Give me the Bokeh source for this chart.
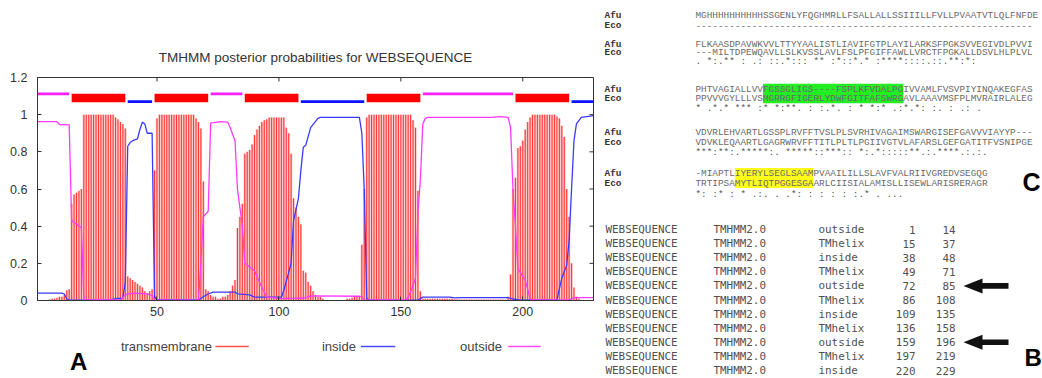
import math
from bokeh.plotting import figure
from bokeh.layouts import row, column
from bokeh.models import Range1d, FixedTicker, NumeralTickFormatter
from bokeh.core.properties import value
from bokeh.embed import file_html
from bokeh.resources import INLINE

# ---------------- data (panel A) ----------------
positions = list(range(1, 230))
tm_prob = [
    0, 0, 0, 0, 0, 0.005, 0.01, 0.01, 0.015, 0.02,
    0.02, 0.03, 0.055, 0.06, 0.52, 0.57, 0.58, 0.59, 0.6, 1.0,
    1.0, 1.0, 1.0, 1.0, 1.0, 1.0, 1.0, 1.0, 1.0, 1.0,
    1.0, 1.0, 0.985, 0.975, 0.96, 0.95, 0.925, 0.13, 0.12, 0.11,
    0.1, 0.09, 0.08, 0.07, 0.05, 0.04, 0.05, 0.06, 0.7, 0.98,
    1.0, 1.0, 1.0, 1.0, 1.0, 1.0, 1.0, 1.0, 1.0, 1.0,
    1.0, 1.0, 1.0, 1.0, 1.0, 0.98, 0.96, 0.925, 0.64, 0.06,
    0.05, 0.03, 0.02, 0.02, 0.01, 0.01, 0.02, 0.02, 0.03, 0.05,
    0.08, 0.11, 0.39, 0.45, 0.52, 0.79, 0.8, 0.81, 0.84, 0.89,
    0.92, 0.94, 0.96, 0.97, 0.975, 0.985, 0.985, 0.985, 0.985, 0.985,
    0.985, 0.985, 0.93, 0.9, 0.79, 0.55, 0.5, 0.45, 0.41, 0.16,
    0.15, 0.1, 0.08, 0.05, 0.03, 0.02, 0.02, 0.01, 0, 0,
    0, 0, 0, 0, 0, 0, 0, 0.01, 0.01, 0.015,
    0.02, 0.02, 0.02, 0.3, 0.6, 0.985, 1.0, 1.0, 1.0, 1.0,
    1.0, 1.0, 1.0, 1.0, 1.0, 1.0, 1.0, 1.0, 1.0, 1.0,
    1.0, 1.0, 1.0, 1.0, 0.97, 0.93, 0.59, 0.05, 0.01, 0.01,
    0.01, 0.01, 0.01, 0.01, 0.01, 0.01, 0.01, 0.01, 0.01, 0.01,
    0.01, 0.005, 0.005, 0.005, 0.005, 0.005, 0.005, 0.005, 0.005, 0.005,
    0.005, 0.005, 0.005, 0.005, 0.005, 0.005, 0.005, 0.005, 0.005, 0.005,
    0.005, 0.005, 0.005, 0.02, 0.14, 0.6, 0.66, 0.82, 0.83, 0.86,
    0.92, 0.96, 0.985, 1.0, 1.0, 1.0, 1.0, 1.0, 1.0, 1.0,
    1.0, 1.0, 1.0, 0.99, 0.98, 0.94, 0.88, 0.6, 0.45, 0.2,
    0.07, 0.02, 0.01, 0, 0, 0, 0, 0, 0,
]

inside_pos = [1, 11, 12, 13, 14, 31, 33, 36, 37, 38, 39, 40, 42, 43, 44, 45, 46, 48, 49, 50,
              67, 69, 71, 73, 82, 83, 88, 90, 101, 102, 105, 106, 108, 109, 110, 111, 113, 116, 117,
              133, 134, 135, 136, 137, 157, 159, 170, 172, 175, 194, 196, 199,
              214, 216, 218, 219, 220, 221, 222, 224, 229]
inside_prob = [0.04, 0.04, 0.035, 0.008, 0.002, 0.003, 0.01, 0.012, 0.1, 0.83, 0.85, 0.86, 0.87, 0.92, 0.96, 0.95, 0.9, 0.9, 0.02, 0.004,
               0.003, 0.02, 0.035, 0.045, 0.045, 0.036, 0.03, 0.018, 0.018, 0.054, 0.2, 0.43, 0.55, 0.7, 0.825, 0.835, 0.93, 0.98, 0.985,
               0.985, 0.9, 0.59, 0.01, 0.002, 0.002, 0.018, 0.018, 0.014, 0.016, 0.016, 0.008, 0.002,
               0.005, 0.12, 0.19, 0.32, 0.6, 0.86, 0.95, 0.985, 0.995]

outside_pos = [1, 9, 10, 14, 15, 19, 20, 35, 37, 38, 41, 46, 48, 49,
               67, 68, 69, 71, 72, 76, 79, 80, 82, 83, 84, 85, 86, 90, 93, 95, 100, 110, 113, 133, 134, 135,
               152, 153, 155, 156, 157, 158, 159, 160, 161, 187, 191, 194, 195, 196, 197, 198, 199, 201, 203, 204,
               219, 221, 229]
outside_prob = [0.963, 0.963, 0.947, 0.945, 0.43, 0.39, 0.005, 0.003, 0.03, 0.036, 0.04, 0.036, 0.027, 0.002,
                0.003, 0.2, 0.45, 0.48, 0.955, 0.963, 0.96, 0.93, 0.86, 0.6, 0.5, 0.4, 0.2, 0.16, 0.07, 0.02, 0.01, 0.012, 0.025, 0.023, 0.02, 0.002,
                0.005, 0.017, 0.08, 0.12, 0.47, 0.65, 0.95, 0.98, 0.985, 0.985, 0.99, 0.985, 0.93, 0.59, 0.4, 0.17, 0.15, 0.11, 0.01, 0.003,
                0.003, 0.015, 0.015]

# TMHMM prediction table (panel B)
seq_names = ["WEBSEQUENCE"] * 11
sources = ["TMHMM2.0"] * 11
features = ["outside", "TMhelix", "inside", "TMhelix", "outside", "TMhelix",
            "inside", "TMhelix", "outside", "TMhelix", "inside"]
seg_start = [1, 15, 38, 49, 72, 86, 109, 136, 159, 197, 220]
seg_end = [14, 37, 48, 71, 85, 108, 135, 158, 196, 219, 229]
arrow_rows = [4, 8]

y_ticks = [0, 0.2, 0.4, 0.6, 0.8, 1.0, 1.2]
x_ticks = [50, 100, 150, 200]
legend_labels = ["transmembrane", "inside", "outside"]

# Alignment (panel C)
afu_lines = [
    "MGHHHHHHHHHHSSGENLYFQGHMRLLFSALLALLSSIIILLFVLLPVAATVTLQLFNFDE",
    "FLKAASDPAVWKVVLTTYYAALISTLIAVIFGTPLAYILARKSFPGKSVVEGIVDLPVVI",
    "PHTVAGIALLVVFGSSGLIGS----FSPLKFVDALPGIVVAMLFVSVPIYINQAKEGFAS",
    "VDVRLEHVARTLGSSPLRVFFTVSLPLSVRHIVAGAIMSWARGISEFGAVVVIAYYP---",
    "-MIAPTLIYERYLSEGLSAAMPVAAILILLSLAVFVALRIIVGREDVSEGQG",
]
eco_lines = [
    "------------------------------------------------------------",
    "---MILTDPEWQAVLLSLKVSSLAVLFSLPFGIFFAWLLVRCTFPGKALLDSVLHLPLVL",
    "PPVVVGYLLLVSMGRRGFIGERLYDWFGITFAFSWRGAVLAAAVMSFPLMVRAIRLALEG",
    "VDVKLEQAARTLGAGRWRVFFTITLPLTLPGIIVGTVLAFARSLGEFGATITFVSNIPGE",
    "TRTIPSAMYTLIQTPGGESGAARLCIISIALAMISLLISEWLARISRERAGR",
]
cons_lines = [
    "        . *:.** :  .: ::.*::: **  :*::*.* :****::::.::.**:*:",
    "* .*.*  *** :*  *:**.    :  :.*. :  * *:*  .:*.*: :.  : .: .",
    "***:**:.*****:.  *****::***::  *:.*:::::**.:.****.:.:.",
    "    *: :*    : * .:. .  .*: :    : : :   :.* . ...",
]
green_cols = (12, 36)
yellow_cols = (7, 20)

# ---------------- panel A: TMHMM plot ----------------
AX = "#333333"
p = figure(frame_width=556, frame_height=223,
           min_border_left=37, min_border_right=7, min_border_top=77, min_border_bottom=22,
           x_range=Range1d(1, 229), y_range=Range1d(0, 1.2),
           output_backend="svg", toolbar_location=None,
           title="TMHMM posterior probabilities for WEBSEQUENCE")
p.title.align = "center"
p.title.text_font = "Liberation Sans"
p.title.text_font_size = "13.5px"
p.title.text_font_style = "normal"
p.title.text_color = "#333333"
p.title.standoff = 25
p.grid.visible = False
p.outline_line_color = AX
p.outline_line_width = 1
p.background_fill_color = "white"
p.border_fill_color = "white"

for ax in (p.xaxis[0], p.yaxis[0]):
    ax.major_tick_in = 4
    ax.major_tick_out = 0
    ax.minor_tick_in = 0
    ax.minor_tick_out = 0
    ax.axis_line_color = AX
    ax.major_tick_line_color = AX
    ax.major_label_text_font = "Liberation Sans"
    ax.major_label_text_font_size = "12.5px"
    ax.major_label_text_color = "#333333"
p.xaxis.ticker = FixedTicker(ticks=x_ticks)
p.xaxis.major_label_standoff = 6
p.yaxis.ticker = FixedTicker(ticks=y_ticks)
p.yaxis.formatter = NumeralTickFormatter(format="0.[0]")
p.yaxis.major_label_standoff = 10

# mirrored inward ticks on the right and top edges
p.ray(x=[229] * len(y_ticks), y=y_ticks, length=4, length_units="screen", angle=math.pi,
      line_color=AX, line_width=1)
p.ray(x=x_ticks, y=[1.2] * len(x_ticks), length=4, length_units="screen", angle=-math.pi / 2,
      line_color=AX, line_width=1)

# transmembrane impulses
p.vbar(x=positions, top=tm_prob, width=0.98, bottom=0, fill_color="#ffbdbd", line_color=None)
p.segment(x0=positions, y0=[0] * len(positions), x1=positions, y1=tm_prob,
          line_color="#ff3434", line_width=1.0)
# inside / outside curves
p.line(inside_pos, inside_prob, line_color="#3a3aff", line_width=1.3)
p.line(outside_pos, outside_prob, line_color="#ff3aff", line_width=1.3)

# topology bar at top, from the prediction table
tm_s = [s for s, f in zip(seg_start, features) if f == "TMhelix"]
tm_e = [e for e, f in zip(seg_end, features) if f == "TMhelix"]
in_s = [s for s, f in zip(seg_start, features) if f == "inside"]
in_e = [e for e, f in zip(seg_end, features) if f == "inside"]
out_s = [s for s, f in zip(seg_start, features) if f == "outside"]
out_e = [e for e, f in zip(seg_end, features) if f == "outside"]
p.quad(left=tm_s, right=tm_e, bottom=1.067, top=1.113, fill_color="#ff0000", line_color=None)
p.segment(x0=in_s, x1=in_e, y0=[1.07] * len(in_s), y1=[1.07] * len(in_s), line_color="#1010ff", line_width=2.6)
p.segment(x0=out_s, x1=out_e, y0=[1.112] * len(out_s), y1=[1.112] * len(out_s), line_color="#ff20ff", line_width=2.6)

# ---------------- legend strip + "A" ----------------
leg = figure(width=600, height=56, x_range=Range1d(0, 600), y_range=Range1d(378, 322),
             min_border=0, output_backend="svg", toolbar_location=None)
leg.axis.visible = False
leg.grid.visible = False
leg.outline_line_color = None
leg.text(x=[90, 307, 456], y=[346, 346, 346], text=legend_labels,
         text_font=value("Liberation Sans"), text_font_size="13px", text_color="#444444",
         text_baseline="middle", text_align="left")
leg.segment(x0=[192, 349, 508], x1=[228, 386, 543], y0=[346] * 3, y1=[346] * 3,
            line_color=["#ff5050", "#4a4aff", "#ff4aff"], line_width=1.6)
leg.text(x=[35], y=[361], text=["A"], text_font=value("Liberation Sans"), text_font_size="24px",
         text_font_style="bold", text_color="#000000", text_baseline="middle", text_align="left")

# ---------------- right side: alignment (C) + table (B) ----------------
r = figure(width=442, height=378, x_range=Range1d(600, 1042), y_range=Range1d(378, 0),
           min_border=0, output_backend="svg", toolbar_location=None)
r.axis.visible = False
r.grid.visible = False
r.outline_line_color = None

CW = 5.62
SEQ_X = 695
afu_y = [15, 43.5, 88.5, 131.7, 172.7]
eco_y = [25, 52, 98, 141.7, 182.7]
cons_y = [61, 107.5, 151.5, 193.5]

# highlights
r.quad(left=[SEQ_X + green_cols[0] * CW], right=[SEQ_X + (green_cols[1] + 1) * CW],
       top=[83.3], bottom=[102.7], fill_color="#22ee22", line_color=None)
r.quad(left=[SEQ_X + yellow_cols[0] * CW], right=[SEQ_X + (yellow_cols[1] + 1) * CW],
       top=[167.5], bottom=[187.5], fill_color="#ffff1a", line_color=None)

mono = value("Liberation Mono")
r.text(x=[604] * 5, y=afu_y, text=["Afu"] * 5, text_font=mono, text_font_size="9.4px",
       text_font_style="bold", text_color="#333333", text_baseline="middle")
r.text(x=[604] * 5, y=eco_y, text=["Eco"] * 5, text_font=mono, text_font_size="9.4px",
       text_font_style="bold", text_color="#333333", text_baseline="middle")
r.text(x=[SEQ_X] * 5, y=afu_y, text=afu_lines, text_font=mono, text_font_size="9.37px",
       text_color="#6a6a6a", text_baseline="middle")
r.text(x=[SEQ_X] * 5, y=eco_y, text=eco_lines, text_font=mono, text_font_size="9.37px",
       text_color="#6a6a6a", text_baseline="middle")
r.text(x=[SEQ_X] * 4, y=cons_y, text=cons_lines, text_font=mono, text_font_size="9.37px",
       text_color="#555555", text_baseline="middle")
r.text(x=[1022], y=[181], text=["C"], text_font=value("Liberation Sans"), text_font_size="25px",
       text_font_style="bold", text_color="#000000", text_baseline="middle")

# table
row_y = [229 + 14.1 * i for i in range(len(features))]
tmono = value("DejaVu Sans Mono")
tcol = "#505050"
r.text(x=[605] * 11, y=row_y, text=seq_names, text_font=tmono, text_font_size="10.9px",
       text_color=tcol, text_baseline="middle")
r.text(x=[713] * 11, y=row_y, text=sources, text_font=tmono, text_font_size="10.9px",
       text_color=tcol, text_baseline="middle")
r.text(x=[818] * 11, y=row_y, text=features, text_font=tmono, text_font_size="10.9px",
       text_color=tcol, text_baseline="middle")
r.text(x=[915] * 11, y=row_y, text=[str(s) for s in seg_start], text_font=tmono, text_font_size="10.9px",
       text_color=tcol, text_baseline="middle", text_align="right")
r.text(x=[955] * 11, y=row_y, text=[str(e) for e in seg_end], text_font=tmono, text_font_size="10.9px",
       text_color=tcol, text_baseline="middle", text_align="right")

# arrows pointing at the two outside loops
axs, ays = [], []
for i in arrow_rows:
    yc = row_y[i]
    axs.append([963, 982, 982, 1008, 1008, 982, 982])
    ays.append([yc, yc - 7.5, yc - 2.8, yc - 2.8, yc + 2.8, yc + 2.8, yc + 7.5])
r.patches(axs, ays, fill_color="#111111", line_color=None)
r.text(x=[1024], y=[357], text=["B"], text_font=value("Liberation Sans"), text_font_size="24px",
       text_font_style="bold", text_color="#000000", text_baseline="middle")

layout = row(column(p, leg), r)
open("out.html", "w").write(file_html(layout, INLINE))
